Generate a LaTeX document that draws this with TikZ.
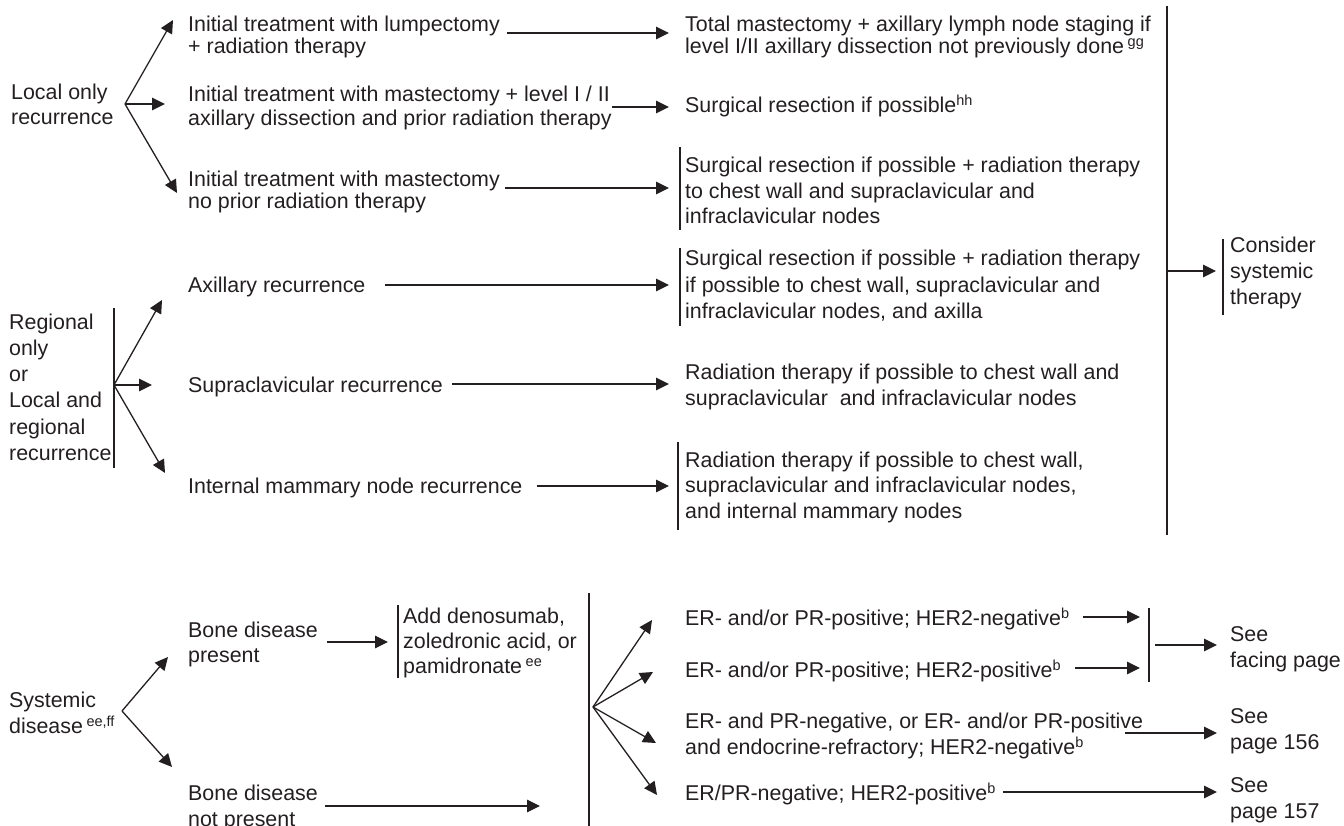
\documentclass[tikz,border=0pt]{standalone}
\usepackage{fontspec}
\setmainfont{Liberation Sans}
\usetikzlibrary{arrows.meta}
\definecolor{ink}{RGB}{35,31,32}
\newcommand{\sups}[1]{\raisebox{7pt}{\fontsize{14.5}{14.5}\selectfont #1}}
\tikzset{
  txt/.style={anchor=base west, inner sep=0pt, align=left, text=ink, font=\fontsize{21.4}{#1}\selectfont},
  txt/.default=26,
  ln/.style={draw=ink, line width=1.3pt},
  arr/.style={ln, -{Triangle[length=13pt,width=12.5pt]}},
  bar/.style={draw=ink, line width=1.5pt},
}
\begin{document}
\begin{tikzpicture}[x=1pt,y=-1pt]
\useasboundingbox (0,0) rectangle (1344,826);
% (text nodes are placed at the baseline of their last line)
% ---------- Local only recurrence ----------
\node[txt=25] (L) at (11,125) {Local only\\recurrence};
\coordinate (Lb) at (125,104);
\coordinate (La1) at (173,20);
\coordinate (La2) at (165,104);
\coordinate (La3) at (177,193);
\draw[arr] (Lb) -- (La1);
\draw[arr] (Lb) -- (La2);
\draw[arr] (Lb) -- (La3);
\node[txt=21.7] (A1) at (188,53.7) {Initial treatment with lumpectomy\\+ radiation therapy};
\node[txt=24] (A2) at (188,126) {Initial treatment with mastectomy + level I / II\\axillary dissection and prior radiation therapy};
\node[txt=22] (A3) at (188,209) {Initial treatment with mastectomy\\no prior radiation therapy};
\coordinate (A1e) at (507,33);
\coordinate (A2e) at (612,107);
\coordinate (A3e) at (505,188);
\coordinate (B1i) at (669,33);
\coordinate (B2i) at (669,107);
\coordinate (B3i) at (669,188);
\draw[arr] (A1e) -- (B1i);
\draw[arr] (A2e) -- (B2i);
\draw[arr] (A3e) -- (B3i);
\node[txt=21.7] (B1) at (685,53.7) {Total mastectomy + axillary lymph node staging if\\level I/II axillary dissection not previously done\,\sups{gg}};
\node[txt] (B2) at (685,113) {Surgical resection if possible\sups{hh}};
\node[txt=25.5] (B3) at (685,224) {Surgical resection if possible + radiation therapy\\to chest wall and supraclavicular and\\infraclavicular nodes};
\draw[bar] (680,147) -- (680,230);
% ---------- right column ----------
\draw[bar] (1167,6) -- (1167,535);
\coordinate (Cs) at (1167,271);
\coordinate (Ci) at (1216,271);
\draw[arr] (Cs) -- (Ci);
\draw[bar] (1223,239) -- (1223,315);
\node[txt=26] (C) at (1230,305) {Consider\\systemic\\therapy};
% ---------- Regional ----------
\node[txt=26.3] (R) at (9,460.5) {Regional\\only\\or\\Local and\\regional\\recurrence};
\draw[bar] (114,308) -- (114,468);
\coordinate (Rb) at (114,385);
\coordinate (Ra1) at (162,300);
\coordinate (Ra2) at (152,385);
\coordinate (Ra3) at (165,473);
\draw[arr] (Rb) -- (Ra1);
\draw[arr] (Rb) -- (Ra2);
\draw[arr] (Rb) -- (Ra3);
\node[txt] (M1) at (188,293) {Axillary recurrence};
\node[txt] (M2) at (188,392) {Supraclavicular recurrence};
\node[txt] (M3) at (188,493) {Internal mammary node recurrence};
\coordinate (M1e) at (385,285);
\coordinate (M2e) at (452,384);
\coordinate (M3e) at (537,486);
\coordinate (D1i) at (669,285);
\coordinate (D2i) at (669,384);
\coordinate (D3i) at (669,486);
\draw[arr] (M1e) -- (D1i);
\draw[arr] (M2e) -- (D2i);
\draw[arr] (M3e) -- (D3i);
\node[txt=26.5] (D1) at (685,319) {Surgical resection if possible + radiation therapy\\if possible to chest wall, supraclavicular and\\infraclavicular nodes, and axilla};
\draw[bar] (680,248) -- (680,326);
\node[txt=26] (D2) at (685,405) {Radiation therapy if possible to chest wall and\\supraclavicular\ \ and infraclavicular nodes};
\node[txt=25.5] (D3) at (685,518) {Radiation therapy if possible to chest wall,\\supraclavicular and infraclavicular nodes,\\and internal mammary nodes};
\draw[bar] (678,442) -- (678,530);
% ---------- Systemic ----------
\node[txt=26] (S) at (9,733) {Systemic\\disease\,\sups{ee,ff}};
\coordinate (Sb) at (122,711);
\coordinate (Sa1) at (168,657);
\coordinate (Sa2) at (172,767);
\draw[arr] (Sb) -- (Sa1);
\draw[arr] (Sb) -- (Sa2);
\node[txt=25] (P1) at (188,662) {Bone disease\\present};
\node[txt=26] (P2) at (188,826) {Bone disease\\not present};
\coordinate (P1e) at (327,642);
\coordinate (Zi) at (388,642);
\draw[arr] (P1e) -- (Zi);
\draw[bar] (398,605) -- (398,678);
\node[txt=25] (Z) at (403,673) {Add denosumab,\\zoledronic acid, or\\pamidronate\,\sups{ee}};
\coordinate (P2e) at (325,806);
\coordinate (Hi) at (540,806);
\draw[arr] (P2e) -- (Hi);
\draw[bar] (589,593) -- (589,830);
\coordinate (Hb) at (593,707);
\coordinate (Ha1) at (652,620);
\coordinate (Ha2) at (653,672);
\coordinate (Ha3) at (656,743);
\coordinate (Ha4) at (657,795);
\draw[arr] (Hb) -- (Ha1);
\draw[arr] (Hb) -- (Ha2);
\draw[arr] (Hb) -- (Ha3);
\draw[arr] (Hb) -- (Ha4);
\node[txt] (E1) at (685,625) {ER- and/or PR-positive; HER2-negative\sups{b}};
\node[txt] (E2) at (685,677) {ER- and/or PR-positive; HER2-positive\sups{b}};
\node[txt=26] (E3) at (685,754) {ER- and PR-negative, or ER- and/or PR-positive\\and endocrine-refractory; HER2-negative\sups{b}};
\node[txt] (E4) at (685,800) {ER/PR-negative; HER2-positive\sups{b}};
\coordinate (E1e) at (1083,617);
\coordinate (E2e) at (1075,668);
\coordinate (G1) at (1140,617);
\coordinate (G2) at (1140,668);
\draw[arr] (E1e) -- (G1);
\draw[arr] (E2e) -- (G2);
\draw[bar] (1149,608) -- (1149,682);
\coordinate (Gs) at (1155,645);
\coordinate (F1i) at (1217,645);
\draw[arr] (Gs) -- (F1i);
\node[txt=26] (F1) at (1230,667) {See\\facing page};
\coordinate (E3e) at (1125,733);
\coordinate (F2i) at (1217,733);
\draw[arr] (E3e) -- (F2i);
\node[txt=26] (F2) at (1230,749) {See\\page 156};
\coordinate (E4e) at (1003,792);
\coordinate (F3i) at (1217,792);
\draw[arr] (E4e) -- (F3i);
\node[txt=26] (F3) at (1230,818) {See\\page 157};
\end{tikzpicture}
\end{document}
